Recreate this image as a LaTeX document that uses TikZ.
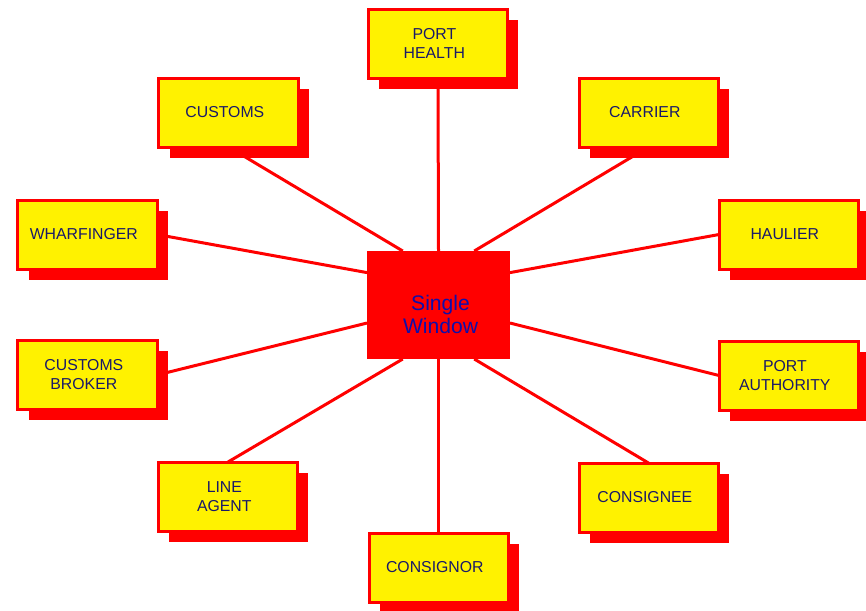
\documentclass[tikz,border=0pt]{standalone}
\usepackage{fontspec}
\setmainfont{Liberation Sans}
\usetikzlibrary{calc,backgrounds,shadows}
\definecolor{labelblue}{RGB}{25,25,105}
\definecolor{hubblue}{RGB}{15,15,170}
\begin{document}
\begin{tikzpicture}[x=0.03cm, y=-0.03cm,
    party/.style={draw=red, line width=0.09cm, fill=yellow, inner sep=0pt, outer sep=0pt,
      minimum width=4.17cm, minimum height=2.07cm,
      drop shadow={fill=red, opacity=1, shadow xshift=0.32cm, shadow yshift=-0.32cm}},
    partytext/.style={text=labelblue, font=\fontsize{13.5}{16.2}\selectfont, align=center, xshift=-0.11cm},
    hub/.style={fill=red, inner sep=0pt, outer sep=0pt, minimum width=4.29cm, minimum height=3.24cm},
    hubtext/.style={text=hubblue, font=\fontsize{18}{19.6}\selectfont, align=center, xshift=0.06cm, yshift=-0.27cm},
    link/.style={draw=red, line width=0.09cm}]
  \useasboundingbox (0,0) rectangle (866,610);
  % centre
  \node[hub, label={[hubtext]center:Single\\Window}] (sw) at (438.5,305) {};
  % parties round it
  \node[party, label={[partytext]center:PORT\\HEALTH}] (ph) at (438,43.5) {};
  \node[party, label={[partytext]center:CUSTOMS}] (cu) at (228.5,112.5) {};
  \node[party, label={[partytext]center:CARRIER}] (ca) at (648.5,112.5) {};
  \node[party, label={[partytext]center:WHARFINGER}] (wh) at (87.5,234.5) {};
  \node[party, label={[partytext]center:HAULIER}] (ha) at (788.5,234.5) {};
  \node[party, label={[partytext]center:CUSTOMS\\BROKER}] (cb) at (87.5,375) {};
  \node[party, label={[partytext]center:PORT\\AUTHORITY}] (pa) at (788.5,375.5) {};
  \node[party, label={[partytext]center:LINE\\AGENT}] (la) at (228,496.5) {};
  \node[party, label={[partytext]center:CONSIGNEE}] (ce) at (648.5,497.5) {};
  \node[party, label={[partytext]center:CONSIGNOR}] (cr) at (438.5,567.5) {};
  % links, behind the boxes
  \begin{scope}[on background layer]
    \fill[white] (0,0) rectangle (866,610);
    \draw[link] (ph.south) -- (sw.north);
    \draw[link] (cu.south) -- ($(sw.north west)!0.25!(sw.north east)$);
    \draw[link] (ca.south) -- ($(sw.north west)!0.75!(sw.north east)$);
    \draw[link] (wh.east) -- ($(sw.north west)!0.2!(sw.south west)$);
    \draw[link] (ha.west) -- ($(sw.north east)!0.2!(sw.south east)$);
    \draw[link] (cb.east) -- ($(sw.north west)!0.667!(sw.south west)$);
    \draw[link] (pa.west) -- ($(sw.north east)!0.667!(sw.south east)$);
    \draw[link] (la.north) -- ($(sw.south west)!0.25!(sw.south east)$);
    \draw[link] (ce.north) -- ($(sw.south west)!0.75!(sw.south east)$);
    \draw[link] (cr.north) -- (sw.south);
  \end{scope}
\end{tikzpicture}
\end{document}
